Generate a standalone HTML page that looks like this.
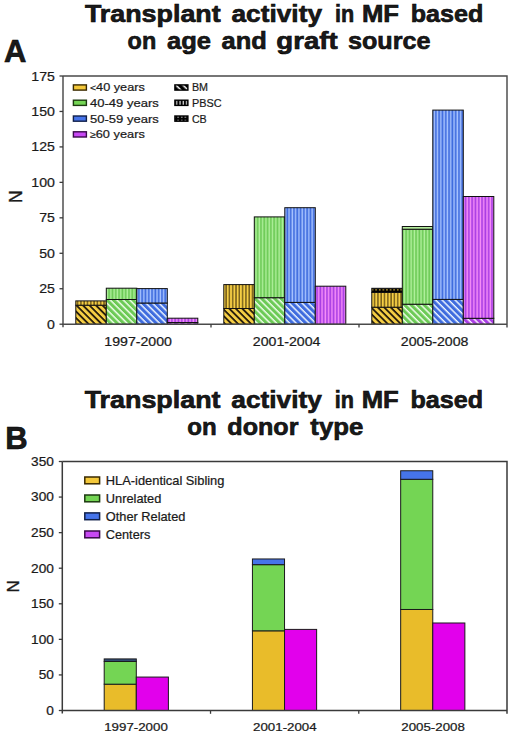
<!DOCTYPE html><html><head><meta charset="utf-8"><style>
html,body{margin:0;padding:0;background:#fff;width:520px;height:735px;overflow:hidden}
svg{display:block}
text{font-family:"Liberation Sans", sans-serif;fill:#1a1a1a}
</style></head><body>
<svg width="520" height="735" viewBox="0 0 520 735">
<defs><pattern id="bmY" patternUnits="userSpaceOnUse" width="4.6" height="4.6" patternTransform="rotate(45)"><rect width="4.6" height="4.6" fill="#F5CE44"/><rect x="0" y="0" width="4.6" height="1.7" fill="#1a1208"/></pattern><pattern id="bmG" patternUnits="userSpaceOnUse" width="4.6" height="4.6" patternTransform="rotate(45)"><rect width="4.6" height="4.6" fill="#6CCA56"/><rect x="0" y="0" width="4.6" height="1.45" fill="#f4fff0"/></pattern><pattern id="bmB" patternUnits="userSpaceOnUse" width="4.6" height="4.6" patternTransform="rotate(45)"><rect width="4.6" height="4.6" fill="#3F6CDE"/><rect x="0" y="0" width="4.6" height="1.45" fill="#f0f8ff"/></pattern><pattern id="bmP" patternUnits="userSpaceOnUse" width="4.6" height="4.6" patternTransform="rotate(45)"><rect width="4.6" height="4.6" fill="#A93EE4"/><rect x="0" y="0" width="4.6" height="1.45" fill="#fff0ff"/></pattern><pattern id="bmK" patternUnits="userSpaceOnUse" width="5" height="5" patternTransform="rotate(45)"><rect width="5" height="5" fill="#000"/><rect x="0" y="0" width="5" height="1.5" fill="#fff"/></pattern><pattern id="pbY" patternUnits="userSpaceOnUse" width="3.3" height="10"><rect width="3.3" height="10" fill="#F5CE44"/><rect x="1.2" y="0" width="1.0" height="10" fill="#3a2a08"/></pattern><pattern id="pbG" patternUnits="userSpaceOnUse" width="3.3" height="10"><rect width="3.3" height="10" fill="#6CCA56"/><rect x="1.2" y="0" width="1.5" height="10" fill="#b0f09c"/></pattern><pattern id="pbB" patternUnits="userSpaceOnUse" width="3.3" height="10"><rect width="3.3" height="10" fill="#3F6CDE"/><rect x="1.2" y="0" width="1.5" height="10" fill="#a8c4ff"/></pattern><pattern id="pbP" patternUnits="userSpaceOnUse" width="3.3" height="10"><rect width="3.3" height="10" fill="#A93EE4"/><rect x="1.2" y="0" width="1.5" height="10" fill="#f890f8"/></pattern><pattern id="pbK" patternUnits="userSpaceOnUse" width="3.3" height="10"><rect width="3.3" height="10" fill="#000"/><rect x="1.2" y="0" width="1.3" height="10" fill="#d0d0d0"/></pattern><pattern id="cbG" patternUnits="userSpaceOnUse" width="3.6" height="3.6"><rect width="3.6" height="3.6" fill="#b4ec9c"/></pattern><pattern id="cbY" patternUnits="userSpaceOnUse" width="3.6" height="3.6"><rect width="3.6" height="3.6" fill="#000"/><rect x="1.1" y="1.1" width="1.3" height="1.3" fill="#F5CE44"/></pattern><pattern id="cbK" patternUnits="userSpaceOnUse" width="3.6" height="3.6"><rect width="3.6" height="3.6" fill="#000"/><rect x="1.1" y="1.1" width="1.3" height="1.3" fill="#fff"/></pattern></defs>
<text x="84.9" y="22.0" font-size="24" text-anchor="start" font-weight="bold" textLength="135.79" lengthAdjust="spacingAndGlyphs"  stroke="#000" stroke-width="0.6">Transplant</text>
<text x="231.5" y="22.0" font-size="24" text-anchor="start" font-weight="bold" textLength="90.51" lengthAdjust="spacingAndGlyphs"  stroke="#000" stroke-width="0.6">activity</text>
<text x="334.9" y="22.0" font-size="24" text-anchor="start" font-weight="bold" textLength="19.19" lengthAdjust="spacingAndGlyphs"  stroke="#000" stroke-width="0.6">in</text>
<text x="361.9" y="22.0" font-size="24" text-anchor="start" font-weight="bold" textLength="37.1" lengthAdjust="spacingAndGlyphs"  stroke="#000" stroke-width="0.6">MF</text>
<text x="410.7" y="22.0" font-size="24" text-anchor="start" font-weight="bold" textLength="72.6" lengthAdjust="spacingAndGlyphs"  stroke="#000" stroke-width="0.6">based</text>
<text x="127.6" y="49.1" font-size="24" text-anchor="start" font-weight="bold" textLength="28.59" lengthAdjust="spacingAndGlyphs"  stroke="#000" stroke-width="0.6">on</text>
<text x="167.0" y="49.1" font-size="24" text-anchor="start" font-weight="bold" textLength="44.0" lengthAdjust="spacingAndGlyphs"  stroke="#000" stroke-width="0.6">age</text>
<text x="221.6" y="49.1" font-size="24" text-anchor="start" font-weight="bold" textLength="45.2" lengthAdjust="spacingAndGlyphs"  stroke="#000" stroke-width="0.6">and</text>
<text x="276.3" y="49.1" font-size="24" text-anchor="start" font-weight="bold" textLength="61.31" lengthAdjust="spacingAndGlyphs"  stroke="#000" stroke-width="0.6">graft</text>
<text x="348.0" y="49.1" font-size="24" text-anchor="start" font-weight="bold" textLength="82.51" lengthAdjust="spacingAndGlyphs"  stroke="#000" stroke-width="0.6">source</text>
<text x="4.0" y="62" font-size="31" text-anchor="start" font-weight="bold"  stroke="#000" stroke-width="0.6">A</text>
<text x="84.7" y="408.2" font-size="24" text-anchor="start" font-weight="bold" textLength="135.79" lengthAdjust="spacingAndGlyphs"  stroke="#000" stroke-width="0.6">Transplant</text>
<text x="231.3" y="408.2" font-size="24" text-anchor="start" font-weight="bold" textLength="90.51" lengthAdjust="spacingAndGlyphs"  stroke="#000" stroke-width="0.6">activity</text>
<text x="334.7" y="408.2" font-size="24" text-anchor="start" font-weight="bold" textLength="19.19" lengthAdjust="spacingAndGlyphs"  stroke="#000" stroke-width="0.6">in</text>
<text x="361.7" y="408.2" font-size="24" text-anchor="start" font-weight="bold" textLength="37.1" lengthAdjust="spacingAndGlyphs"  stroke="#000" stroke-width="0.6">MF</text>
<text x="410.5" y="408.2" font-size="24" text-anchor="start" font-weight="bold" textLength="72.6" lengthAdjust="spacingAndGlyphs"  stroke="#000" stroke-width="0.6">based</text>
<text x="187.3" y="434.9" font-size="24" text-anchor="start" font-weight="bold" textLength="29.39" lengthAdjust="spacingAndGlyphs"  stroke="#000" stroke-width="0.6">on</text>
<text x="227.3" y="434.9" font-size="24" text-anchor="start" font-weight="bold" textLength="71.19" lengthAdjust="spacingAndGlyphs"  stroke="#000" stroke-width="0.6">donor</text>
<text x="310.3" y="434.9" font-size="24" text-anchor="start" font-weight="bold" textLength="53.0" lengthAdjust="spacingAndGlyphs"  stroke="#000" stroke-width="0.6">type</text>
<text x="5.2" y="448.6" font-size="31" text-anchor="start" font-weight="bold"  stroke="#000" stroke-width="0.6">B</text>
<rect x="75.80" y="305.20" width="30.50" height="19.00" fill="url(#bmY)" stroke="#111" stroke-width="1"/>
<rect x="75.80" y="300.90" width="30.50" height="4.30" fill="url(#pbY)" stroke="#111" stroke-width="1"/>
<rect x="106.30" y="299.50" width="30.50" height="24.70" fill="url(#bmG)" stroke="#111" stroke-width="1"/>
<rect x="106.30" y="288.20" width="30.50" height="11.30" fill="url(#pbG)" stroke="#111" stroke-width="1"/>
<rect x="136.80" y="303.00" width="30.50" height="21.20" fill="url(#bmB)" stroke="#111" stroke-width="1"/>
<rect x="136.80" y="288.60" width="30.50" height="14.40" fill="url(#pbB)" stroke="#111" stroke-width="1"/>
<rect x="167.30" y="322.50" width="30.50" height="1.70" fill="url(#bmP)" stroke="#111" stroke-width="1"/>
<rect x="167.30" y="318.20" width="30.50" height="4.30" fill="url(#pbP)" stroke="#111" stroke-width="1"/>
<rect x="223.80" y="308.50" width="30.50" height="15.70" fill="url(#bmY)" stroke="#111" stroke-width="1"/>
<rect x="223.80" y="284.60" width="30.50" height="23.90" fill="url(#pbY)" stroke="#111" stroke-width="1"/>
<rect x="254.30" y="297.70" width="30.50" height="26.50" fill="url(#bmG)" stroke="#111" stroke-width="1"/>
<rect x="254.30" y="216.90" width="30.50" height="80.80" fill="url(#pbG)" stroke="#111" stroke-width="1"/>
<rect x="284.80" y="302.40" width="30.50" height="21.80" fill="url(#bmB)" stroke="#111" stroke-width="1"/>
<rect x="284.80" y="207.70" width="30.50" height="94.70" fill="url(#pbB)" stroke="#111" stroke-width="1"/>
<rect x="315.30" y="286.20" width="30.50" height="38.00" fill="url(#pbP)" stroke="#111" stroke-width="1"/>
<rect x="371.80" y="307.20" width="30.50" height="17.00" fill="url(#bmY)" stroke="#111" stroke-width="1"/>
<rect x="371.80" y="292.40" width="30.50" height="14.80" fill="url(#pbY)" stroke="#111" stroke-width="1"/>
<rect x="371.80" y="288.30" width="30.50" height="4.10" fill="url(#cbY)" stroke="#111" stroke-width="1"/>
<rect x="402.30" y="304.20" width="30.50" height="20.00" fill="url(#bmG)" stroke="#111" stroke-width="1"/>
<rect x="402.30" y="229.20" width="30.50" height="75.00" fill="url(#pbG)" stroke="#111" stroke-width="1"/>
<rect x="402.30" y="226.50" width="30.50" height="2.70" fill="url(#cbG)" stroke="#111" stroke-width="1"/>
<rect x="432.80" y="299.40" width="30.50" height="24.80" fill="url(#bmB)" stroke="#111" stroke-width="1"/>
<rect x="432.80" y="110.10" width="30.50" height="189.30" fill="url(#pbB)" stroke="#111" stroke-width="1"/>
<rect x="463.30" y="318.30" width="30.50" height="5.90" fill="url(#bmP)" stroke="#111" stroke-width="1"/>
<rect x="463.30" y="196.50" width="30.50" height="121.80" fill="url(#pbP)" stroke="#111" stroke-width="1"/>
<path d="M63.0 76.0 H507.0 V327.5 M63.0 76.0 V327.2 M63.0 324.2 H507.0" fill="none" stroke="#4a4a4a" stroke-width="1.45"/>
<path d="M59.5 324.20 H63.0" stroke="#3a3a3a" stroke-width="1.3"/>
<text x="54.9" y="328.7" font-size="12.6" text-anchor="end" font-weight="normal" textLength="7.85" lengthAdjust="spacingAndGlyphs"  stroke="#1a1a1a" stroke-width="0.22">0</text>
<path d="M59.5 288.74 H63.0" stroke="#3a3a3a" stroke-width="1.3"/>
<text x="54.9" y="293.24285714285713" font-size="12.6" text-anchor="end" font-weight="normal" textLength="15.7" lengthAdjust="spacingAndGlyphs"  stroke="#1a1a1a" stroke-width="0.22">25</text>
<path d="M59.5 253.29 H63.0" stroke="#3a3a3a" stroke-width="1.3"/>
<text x="54.9" y="257.7857142857143" font-size="12.6" text-anchor="end" font-weight="normal" textLength="15.7" lengthAdjust="spacingAndGlyphs"  stroke="#1a1a1a" stroke-width="0.22">50</text>
<path d="M59.5 217.83 H63.0" stroke="#3a3a3a" stroke-width="1.3"/>
<text x="54.9" y="222.32857142857142" font-size="12.6" text-anchor="end" font-weight="normal" textLength="15.7" lengthAdjust="spacingAndGlyphs"  stroke="#1a1a1a" stroke-width="0.22">75</text>
<path d="M59.5 182.37 H63.0" stroke="#3a3a3a" stroke-width="1.3"/>
<text x="54.9" y="186.87142857142857" font-size="12.6" text-anchor="end" font-weight="normal" textLength="23.549999999999997" lengthAdjust="spacingAndGlyphs"  stroke="#1a1a1a" stroke-width="0.22">100</text>
<path d="M59.5 146.91 H63.0" stroke="#3a3a3a" stroke-width="1.3"/>
<text x="54.9" y="151.4142857142857" font-size="12.6" text-anchor="end" font-weight="normal" textLength="23.549999999999997" lengthAdjust="spacingAndGlyphs"  stroke="#1a1a1a" stroke-width="0.22">125</text>
<path d="M59.5 111.46 H63.0" stroke="#3a3a3a" stroke-width="1.3"/>
<text x="54.9" y="115.95714285714286" font-size="12.6" text-anchor="end" font-weight="normal" textLength="23.549999999999997" lengthAdjust="spacingAndGlyphs"  stroke="#1a1a1a" stroke-width="0.22">150</text>
<path d="M59.5 76.00 H63.0" stroke="#3a3a3a" stroke-width="1.3"/>
<text x="54.9" y="80.5" font-size="12.6" text-anchor="end" font-weight="normal" textLength="23.549999999999997" lengthAdjust="spacingAndGlyphs"  stroke="#1a1a1a" stroke-width="0.22">175</text>
<path d="M211.0 324.2 V327.5" stroke="#3a3a3a" stroke-width="1.3"/>
<path d="M359.0 324.2 V327.5" stroke="#3a3a3a" stroke-width="1.3"/>
<text x="138.1" y="346.1" font-size="12" text-anchor="middle" font-weight="normal" textLength="67.6" lengthAdjust="spacingAndGlyphs"  stroke="#1a1a1a" stroke-width="0.22">1997-2000</text>
<text x="286.6" y="346.1" font-size="12" text-anchor="middle" font-weight="normal" textLength="67.6" lengthAdjust="spacingAndGlyphs"  stroke="#1a1a1a" stroke-width="0.22">2001-2004</text>
<text x="434.6" y="346.1" font-size="12" text-anchor="middle" font-weight="normal" textLength="67.6" lengthAdjust="spacingAndGlyphs"  stroke="#1a1a1a" stroke-width="0.22">2005-2008</text>
<text x="0" y="0" font-size="17.5" transform="translate(21.8 196.6) rotate(-90)" text-anchor="middle" stroke="#1a1a1a" stroke-width="0.35">N</text>
<rect x="73.4" y="84.90" width="13" height="5.2" fill="#F4C83A" stroke="#3a2a00" stroke-width="1.4"/>
<text x="90.0" y="91.4" font-size="11.6" text-anchor="start" font-weight="normal" textLength="54.8" lengthAdjust="spacingAndGlyphs"  stroke="#1a1a1a" stroke-width="0.22"><tspan font-size="9.5">&lt;</tspan>40 years</text>
<rect x="73.4" y="100.20" width="13" height="5.2" fill="#74D554" stroke="#1d3a10" stroke-width="1.4"/>
<text x="90.0" y="106.7" font-size="11.6" text-anchor="start" font-weight="normal" textLength="68.8" lengthAdjust="spacingAndGlyphs"  stroke="#1a1a1a" stroke-width="0.22">40-49 years</text>
<rect x="73.4" y="116.00" width="13" height="5.2" fill="#4674EA" stroke="#10204a" stroke-width="1.4"/>
<text x="90.0" y="122.5" font-size="11.6" text-anchor="start" font-weight="normal" textLength="68.8" lengthAdjust="spacingAndGlyphs"  stroke="#1a1a1a" stroke-width="0.22">50-59 years</text>
<rect x="73.4" y="131.80" width="13" height="5.2" fill="#C848F4" stroke="#3a0a4a" stroke-width="1.4"/>
<text x="90.0" y="138.29999999999998" font-size="11.6" text-anchor="start" font-weight="normal" textLength="54.8" lengthAdjust="spacingAndGlyphs"  stroke="#1a1a1a" stroke-width="0.22"><tspan font-size="9.5">&#8805;</tspan>60 years</text>
<rect x="174.9" y="84.90" width="13" height="5.2" fill="url(#bmK)" stroke="#000" stroke-width="1.4"/>
<text x="191.9" y="91.4" font-size="11.6" text-anchor="start" font-weight="normal" textLength="16.1" lengthAdjust="spacingAndGlyphs"  stroke="#1a1a1a" stroke-width="0.22">BM</text>
<rect x="174.9" y="100.20" width="13" height="5.2" fill="url(#pbK)" stroke="#000" stroke-width="1.4"/>
<text x="191.9" y="106.7" font-size="11.6" text-anchor="start" font-weight="normal" textLength="29.6" lengthAdjust="spacingAndGlyphs"  stroke="#1a1a1a" stroke-width="0.22">PBSC</text>
<rect x="174.9" y="116.00" width="13" height="5.2" fill="url(#cbK)" stroke="#000" stroke-width="1.4"/>
<text x="191.9" y="122.5" font-size="11.6" text-anchor="start" font-weight="normal" textLength="14.8" lengthAdjust="spacingAndGlyphs"  stroke="#1a1a1a" stroke-width="0.22">CB</text>
<rect x="104.20" y="684.18" width="32.1" height="26.32" fill="#E9BC2A" stroke="#1a1a1a" stroke-width="1"/>
<rect x="104.20" y="661.41" width="32.1" height="22.77" fill="#74D554" stroke="#1a1a1a" stroke-width="1"/>
<rect x="104.20" y="658.92" width="32.1" height="2.49" fill="#34507a" stroke="#1a1a1a" stroke-width="1"/>
<rect x="136.30" y="677.06" width="32.1" height="33.44" fill="#E200EC" stroke="#1a1a1a" stroke-width="1"/>
<rect x="252.43" y="630.82" width="32.1" height="79.68" fill="#E9BC2A" stroke="#1a1a1a" stroke-width="1"/>
<rect x="252.43" y="564.66" width="32.1" height="66.16" fill="#74D554" stroke="#1a1a1a" stroke-width="1"/>
<rect x="252.43" y="558.97" width="32.1" height="5.69" fill="#4674EA" stroke="#1a1a1a" stroke-width="1"/>
<rect x="284.53" y="629.40" width="32.1" height="81.10" fill="#E200EC" stroke="#1a1a1a" stroke-width="1"/>
<rect x="400.67" y="609.48" width="32.1" height="101.02" fill="#E9BC2A" stroke="#1a1a1a" stroke-width="1"/>
<rect x="400.67" y="479.29" width="32.1" height="130.19" fill="#74D554" stroke="#1a1a1a" stroke-width="1"/>
<rect x="400.67" y="470.75" width="32.1" height="8.54" fill="#4674EA" stroke="#1a1a1a" stroke-width="1"/>
<rect x="432.77" y="622.99" width="32.1" height="87.51" fill="#E200EC" stroke="#1a1a1a" stroke-width="1"/>
<path d="M62.3 461.5 H507.0 V713.8 M62.3 461.5 V713.5 M62.3 710.5 H507.0" fill="none" stroke="#3a3a3a" stroke-width="1.5"/>
<path d="M58.8 710.50 H62.3" stroke="#3a3a3a" stroke-width="1.3"/>
<text x="53.9" y="714.9" font-size="12.2" text-anchor="end" font-weight="normal" textLength="7.6" lengthAdjust="spacingAndGlyphs"  stroke="#1a1a1a" stroke-width="0.22">0</text>
<path d="M58.8 674.93 H62.3" stroke="#3a3a3a" stroke-width="1.3"/>
<text x="53.9" y="679.3285714285714" font-size="12.2" text-anchor="end" font-weight="normal" textLength="15.2" lengthAdjust="spacingAndGlyphs"  stroke="#1a1a1a" stroke-width="0.22">50</text>
<path d="M58.8 639.36 H62.3" stroke="#3a3a3a" stroke-width="1.3"/>
<text x="53.9" y="643.7571428571429" font-size="12.2" text-anchor="end" font-weight="normal" textLength="22.799999999999997" lengthAdjust="spacingAndGlyphs"  stroke="#1a1a1a" stroke-width="0.22">100</text>
<path d="M58.8 603.79 H62.3" stroke="#3a3a3a" stroke-width="1.3"/>
<text x="53.9" y="608.1857142857143" font-size="12.2" text-anchor="end" font-weight="normal" textLength="22.799999999999997" lengthAdjust="spacingAndGlyphs"  stroke="#1a1a1a" stroke-width="0.22">150</text>
<path d="M58.8 568.21 H62.3" stroke="#3a3a3a" stroke-width="1.3"/>
<text x="53.9" y="572.6142857142858" font-size="12.2" text-anchor="end" font-weight="normal" textLength="22.799999999999997" lengthAdjust="spacingAndGlyphs"  stroke="#1a1a1a" stroke-width="0.22">200</text>
<path d="M58.8 532.64 H62.3" stroke="#3a3a3a" stroke-width="1.3"/>
<text x="53.9" y="537.0428571428571" font-size="12.2" text-anchor="end" font-weight="normal" textLength="22.799999999999997" lengthAdjust="spacingAndGlyphs"  stroke="#1a1a1a" stroke-width="0.22">250</text>
<path d="M58.8 497.07 H62.3" stroke="#3a3a3a" stroke-width="1.3"/>
<text x="53.9" y="501.47142857142853" font-size="12.2" text-anchor="end" font-weight="normal" textLength="22.799999999999997" lengthAdjust="spacingAndGlyphs"  stroke="#1a1a1a" stroke-width="0.22">300</text>
<path d="M58.8 461.50 H62.3" stroke="#3a3a3a" stroke-width="1.3"/>
<text x="53.9" y="465.9" font-size="12.2" text-anchor="end" font-weight="normal" textLength="22.799999999999997" lengthAdjust="spacingAndGlyphs"  stroke="#1a1a1a" stroke-width="0.22">350</text>
<path d="M210.53 710.5 V713.8" stroke="#3a3a3a" stroke-width="1.3"/>
<path d="M358.77 710.5 V713.8" stroke="#3a3a3a" stroke-width="1.3"/>
<text x="136.01666666666665" y="731.4" font-size="11.4" text-anchor="middle" font-weight="normal" textLength="63.6" lengthAdjust="spacingAndGlyphs"  stroke="#1a1a1a" stroke-width="0.22">1997-2000</text>
<text x="284.84999999999997" y="731.4" font-size="11.4" text-anchor="middle" font-weight="normal" textLength="63.6" lengthAdjust="spacingAndGlyphs"  stroke="#1a1a1a" stroke-width="0.22">2001-2004</text>
<text x="433.0833333333333" y="731.4" font-size="11.4" text-anchor="middle" font-weight="normal" textLength="63.6" lengthAdjust="spacingAndGlyphs"  stroke="#1a1a1a" stroke-width="0.22">2005-2008</text>
<text x="0" y="0" font-size="17" transform="translate(19.0 586.4) rotate(-90)" text-anchor="middle" stroke="#1a1a1a" stroke-width="0.35">N</text>
<rect x="84.8" y="477.00" width="14.8" height="6.8" fill="#F4C83A" stroke="#3a2a00" stroke-width="1.5"/>
<text x="105.8" y="485.3" font-size="12.2" text-anchor="start" font-weight="normal" textLength="118.6" lengthAdjust="spacingAndGlyphs"  stroke="#1a1a1a" stroke-width="0.22">HLA-identical Sibling</text>
<rect x="84.8" y="495.00" width="14.8" height="6.8" fill="#74D554" stroke="#1d3a10" stroke-width="1.5"/>
<text x="105.8" y="503.3" font-size="12.2" text-anchor="start" font-weight="normal" textLength="55.6" lengthAdjust="spacingAndGlyphs"  stroke="#1a1a1a" stroke-width="0.22">Unrelated</text>
<rect x="84.8" y="512.90" width="14.8" height="6.8" fill="#4674EA" stroke="#10204a" stroke-width="1.5"/>
<text x="105.8" y="521.2" font-size="12.2" text-anchor="start" font-weight="normal" textLength="79.6" lengthAdjust="spacingAndGlyphs"  stroke="#1a1a1a" stroke-width="0.22">Other Related</text>
<rect x="84.8" y="531.00" width="14.8" height="6.8" fill="#C848F4" stroke="#3a0a4a" stroke-width="1.5"/>
<text x="105.8" y="539.3" font-size="12.2" text-anchor="start" font-weight="normal" textLength="44.5" lengthAdjust="spacingAndGlyphs"  stroke="#1a1a1a" stroke-width="0.22">Centers</text>
</svg></body></html>
